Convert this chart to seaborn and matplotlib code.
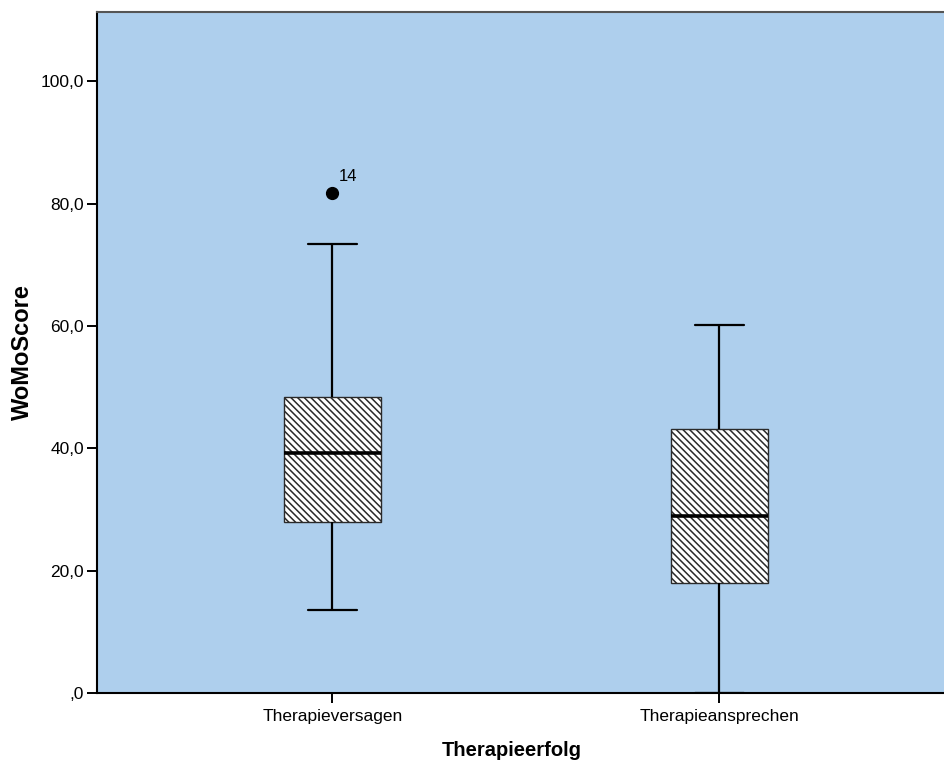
import matplotlib
matplotlib.use("Agg")
import matplotlib.pyplot as plt
import seaborn as sns
import pandas as pd
from matplotlib.ticker import FuncFormatter

# ---- data ----
groups = ["Therapieversagen", "Therapieansprechen"]
# observations arranged so that quartiles / whiskers / outlier match the picture
versagen_values = [13.6, 28.0, 28.0, 39.3, 39.3, 39.3, 48.3, 73.4, 81.75]
ansprechen_values = [0.0, 18.0, 28.9, 43.1, 60.1]
outlier_label = "14"
outlier_value = 81.75
y_ticks = [0, 20, 40, 60, 80, 100]

df = pd.DataFrame({
    "Therapieerfolg": [groups[0]] * len(versagen_values) + [groups[1]] * len(ansprechen_values),
    "WoMoScore": versagen_values + ansprechen_values,
})

sns.set_theme(style="white")
plt.rcParams["font.family"] = ["Liberation Sans", "DejaVu Sans"]
plt.rcParams["hatch.linewidth"] = 1.1
plt.rcParams["text.color"] = "black"
plt.rcParams["axes.labelcolor"] = "black"

fig = plt.figure(figsize=(9.45, 7.66), dpi=100)
ax = fig.add_axes([97 / 945, 73 / 766, 848 / 945, 681 / 766])
ax.set_facecolor("#AECFED")

sns.boxplot(
    data=df, x="Therapieerfolg", y="WoMoScore", order=groups, ax=ax,
    width=0.25, color="white", linecolor="black", linewidth=1.5,
    whis=1.5,
    boxprops=dict(edgecolor="#333333", linewidth=1.0),
    medianprops=dict(color="black", linewidth=2.6),
    whiskerprops=dict(color="black", linewidth=1.6),
    capprops=dict(color="black", linewidth=1.6),
    flierprops=dict(marker="o", markersize=8.5, markerfacecolor="black",
                    markeredgecolor="black"),
)

for p in ax.patches:
    p.set_hatch("\\" * 5)
    p.set_facecolor("white")
    p.set_edgecolor("#2a2a2a")

ax.annotate(outlier_label, xy=(0, outlier_value), xytext=(4.5, 12),
            textcoords="offset points", ha="left", va="center", fontsize=12,
            color="black")

ax.set_xlim(-0.6085, 1.583)
ax.set_ylim(0, 111.3)
ax.set_yticks(y_ticks)


def fmt(v, pos):
    s = f"{v:.1f}".replace(".", ",")
    if s.startswith("0,"):
        s = s[1:]
    return s


ax.yaxis.set_major_formatter(FuncFormatter(fmt))
ax.tick_params(axis="both", which="major", length=7.5, width=1.4,
               color="black", labelsize=12.5, labelcolor="black",
               left=True, bottom=True)
ax.tick_params(axis="y", pad=2)
ax.tick_params(axis="x", pad=4)

for side in ["left", "bottom"]:
    ax.spines[side].set_color("black")
    ax.spines[side].set_linewidth(1.5)
ax.spines["top"].set_color("#555555")
ax.spines["top"].set_linewidth(1.5)
ax.spines["right"].set_visible(False)

ax.set_xlabel("Therapieerfolg", fontsize=14.5, fontweight="bold", color="black")
ax.set_ylabel("WoMoScore", fontsize=17, fontweight="bold", color="black")
ax.xaxis.set_label_coords(0.4894, -0.085)
ax.xaxis.label.set_va("center")
ax.yaxis.set_label_coords(-0.088, 0.5)
ax.yaxis.label.set_va("center")

fig.savefig("out.png", dpi=100)
